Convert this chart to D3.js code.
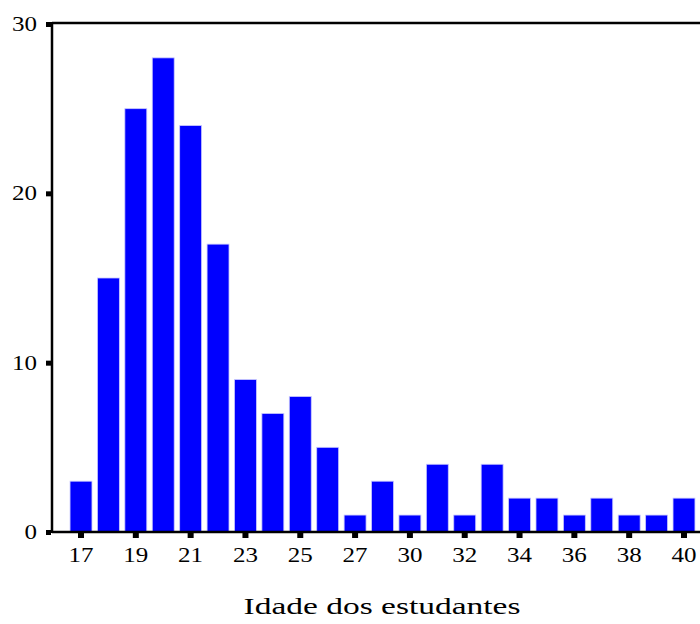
<!DOCTYPE html>
<html>
<head>
<meta charset="utf-8">
<script src="https://d3js.org/d3.v7.min.js"></script>
<style>
body { margin: 0; background: #fff; }
</style>
</head>
<body>
<script>
// Idade dos estudantes - frequencias
var idades = [17, 18, 19, 20, 21, 22, 23, 24, 25, 26, 27, 28, 30, 31, 32, 33, 34, 35, 36, 37, 38, 39, 40];
var contagens = [3, 15, 25, 28, 24, 17, 9, 7, 8, 5, 1, 3, 1, 4, 1, 4, 2, 2, 1, 2, 1, 1, 2];
var rotulosX = [17, 19, 21, 23, 25, 27, 30, 32, 34, 36, 38, 40];
var rotulosY = [0, 10, 20, 30];
var titulo = "Idade dos estudantes";

var W = 700, H = 624;
var mLeft = 52, mTop = 24, mBottom = 532;
var fonte = "'Liberation Serif', 'Times New Roman', Times, serif";

var svg = d3.select("body").append("svg")
    .attr("width", W)
    .attr("height", H);

var x = d3.scaleBand()
    .domain(idades)
    .range([67.3, 697.7])
    .paddingInner(0.2)
    .paddingOuter(0.1);

var y = d3.scaleLinear()
    .domain([0, 30])
    .range([mBottom, mTop]);

// barras
svg.selectAll("rect.bar")
    .data(idades)
    .enter()
    .append("rect")
    .attr("class", "bar")
    .attr("x", function(d) { return x(d); })
    .attr("y", function(d, i) { return y(contagens[i]); })
    .attr("width", x.bandwidth())
    .attr("height", function(d, i) { return mBottom - y(contagens[i]); })
    .attr("fill", "#0000ff")
    .attr("stroke", "#c8c8ff")
    .attr("stroke-width", 0.8);

// moldura
svg.append("line")
    .attr("x1", mLeft).attr("x2", W)
    .attr("y1", mTop - 1).attr("y2", mTop - 1)
    .attr("stroke", "#000").attr("stroke-width", 2.5);
svg.append("line")
    .attr("x1", mLeft).attr("x2", mLeft)
    .attr("y1", mTop - 2).attr("y2", mBottom + 1)
    .attr("stroke", "#000").attr("stroke-width", 2.5);
svg.append("line")
    .attr("x1", mLeft).attr("x2", W)
    .attr("y1", mBottom).attr("y2", mBottom)
    .attr("stroke", "#000").attr("stroke-width", 2.5);

// eixo y
svg.selectAll("rect.ytick")
    .data(rotulosY)
    .enter()
    .append("rect")
    .attr("class", "ytick")
    .attr("x", mLeft - 6)
    .attr("y", function(d) { return y(d) - 2; })
    .attr("width", 5)
    .attr("height", 5)
    .attr("fill", "#000");

svg.selectAll("text.ylab")
    .data(rotulosY)
    .enter()
    .append("text")
    .attr("class", "ylab")
    .attr("x", 37)
    .attr("y", function(d) { return y(d) + 7; })
    .attr("text-anchor", "end")
    .attr("font-family", fonte)
    .attr("font-size", "21px")
    .attr("textLength", function(d) { return String(d).length * 12.5; })
    .attr("lengthAdjust", "spacingAndGlyphs")
    .text(function(d) { return d; });

// eixo x
svg.selectAll("rect.xtick")
    .data(rotulosX)
    .enter()
    .append("rect")
    .attr("class", "xtick")
    .attr("x", function(d) { return x(d) + x.bandwidth() / 2 - 3; })
    .attr("y", mBottom + 1)
    .attr("width", 6)
    .attr("height", 5)
    .attr("fill", "#000");

svg.selectAll("text.xlab")
    .data(rotulosX)
    .enter()
    .append("text")
    .attr("class", "xlab")
    .attr("x", function(d) { return x(d) + x.bandwidth() / 2; })
    .attr("y", 562)
    .attr("text-anchor", "middle")
    .attr("font-family", fonte)
    .attr("font-size", "21px")
    .attr("textLength", 25)
    .attr("lengthAdjust", "spacingAndGlyphs")
    .text(function(d) { return d; });

svg.append("text")
    .attr("x", 382)
    .attr("y", 614)
    .attr("text-anchor", "middle")
    .attr("font-family", fonte)
    .attr("font-size", "23px")
    .attr("textLength", 277)
    .attr("lengthAdjust", "spacingAndGlyphs")
    .text(titulo);
</script>
</body>
</html>
